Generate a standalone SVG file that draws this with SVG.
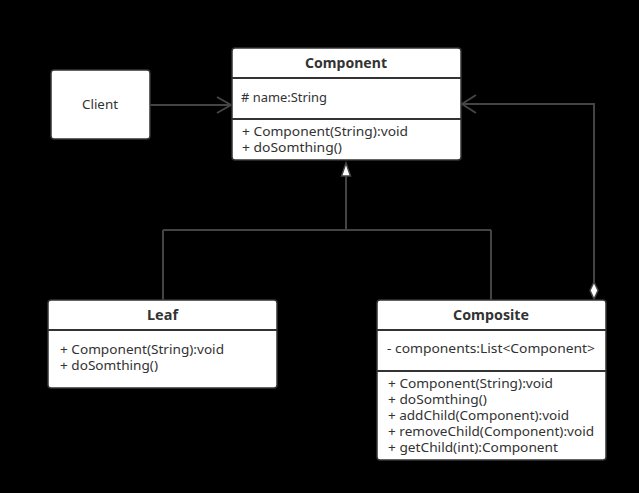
<svg xmlns="http://www.w3.org/2000/svg" width="639" height="493" viewBox="0 0 639 493">
<style>
.box{fill:#fff;stroke:#333;stroke-width:1.5}
.div{stroke:#333;stroke-width:2}
.t{font-family:"Noto Sans","Open Sans",sans-serif;font-size:12px;fill:#333}
.h{font-family:"Noto Sans","Open Sans",sans-serif;font-size:13.5px;font-weight:bold;fill:#333;text-anchor:middle}
.c{stroke:#444;stroke-width:2;fill:none}
.head{fill:#fff;stroke:#444;stroke-width:1.5}
</style>
<rect x="0" y="0" width="639" height="493" fill="#000"/>
<g id="connectors">
<path class="c" d="M150,105 L230,105"/>
<path class="c" d="M217,97 L231,105 L217,113"/>
<path class="c" d="M594,282 L594,104 L463,104"/>
<path class="c" d="M476,95 L462,104 L476,113"/>
<path class="head" d="M594,282 L598,290.5 L594,299 L590,290.5 Z"/>
<path class="c" d="M346,176 L346,230 M163,230 L491,230 M163,230 L163,300 M491,230 L491,300"/>
<path class="head" d="M346,163 L350.5,176 L341.5,176 Z"/>
</g>
<g id="client">
<rect class="box" x="51" y="70" width="99" height="69" rx="3"/>
<text class="t" x="100" y="109" text-anchor="middle" style="font-size:13px" textLength="36" lengthAdjust="spacingAndGlyphs">Client</text>
</g>
<g id="component">
<rect class="box" x="232" y="48" width="229" height="112" rx="3"/>
<line class="div" x1="232" y1="78" x2="461" y2="78"/>
<line class="div" x1="232" y1="119" x2="461" y2="119"/>
<text class="h" x="346" y="68" textLength="82" lengthAdjust="spacingAndGlyphs">Component</text>
<text class="t" x="241" y="102" style="font-size:13px" textLength="86" lengthAdjust="spacingAndGlyphs"># name:String</text>
<text class="t" x="242" y="136" textLength="166" lengthAdjust="spacingAndGlyphs">+ Component(String):void</text>
<text class="t" x="242" y="152" textLength="100" lengthAdjust="spacingAndGlyphs">+ doSomthing()</text>
</g>
<g id="leaf">
<rect class="box" x="48" y="300" width="229" height="88" rx="3"/>
<line class="div" x1="48" y1="330" x2="277" y2="330"/>
<text class="h" x="162.5" y="320" textLength="31" lengthAdjust="spacingAndGlyphs">Leaf</text>
<text class="t" x="60" y="354" textLength="164" lengthAdjust="spacingAndGlyphs">+ Component(String):void</text>
<text class="t" x="60" y="370" textLength="98" lengthAdjust="spacingAndGlyphs">+ doSomthing()</text>
</g>
<g id="composite">
<rect class="box" x="377" y="300" width="229" height="160" rx="3"/>
<line class="div" x1="377" y1="330" x2="606" y2="330"/>
<line class="div" x1="377" y1="371" x2="606" y2="371"/>
<text class="h" x="491" y="320" textLength="76" lengthAdjust="spacingAndGlyphs">Composite</text>
<text class="t" x="387" y="353" style="font-size:13px" textLength="208" lengthAdjust="spacingAndGlyphs">- components:List&lt;Component&gt;</text>
<text class="t" x="388" y="388" textLength="165" lengthAdjust="spacingAndGlyphs">+ Component(String):void</text>
<text class="t" x="388" y="404" textLength="99" lengthAdjust="spacingAndGlyphs">+ doSomthing()</text>
<text class="t" x="388" y="420" textLength="181" lengthAdjust="spacingAndGlyphs">+ addChild(Component):void</text>
<text class="t" x="388" y="436" textLength="206" lengthAdjust="spacingAndGlyphs">+ removeChild(Component):void</text>
<text class="t" x="388" y="452" textLength="170" lengthAdjust="spacingAndGlyphs">+ getChild(int):Component</text>
</g>
</svg>
